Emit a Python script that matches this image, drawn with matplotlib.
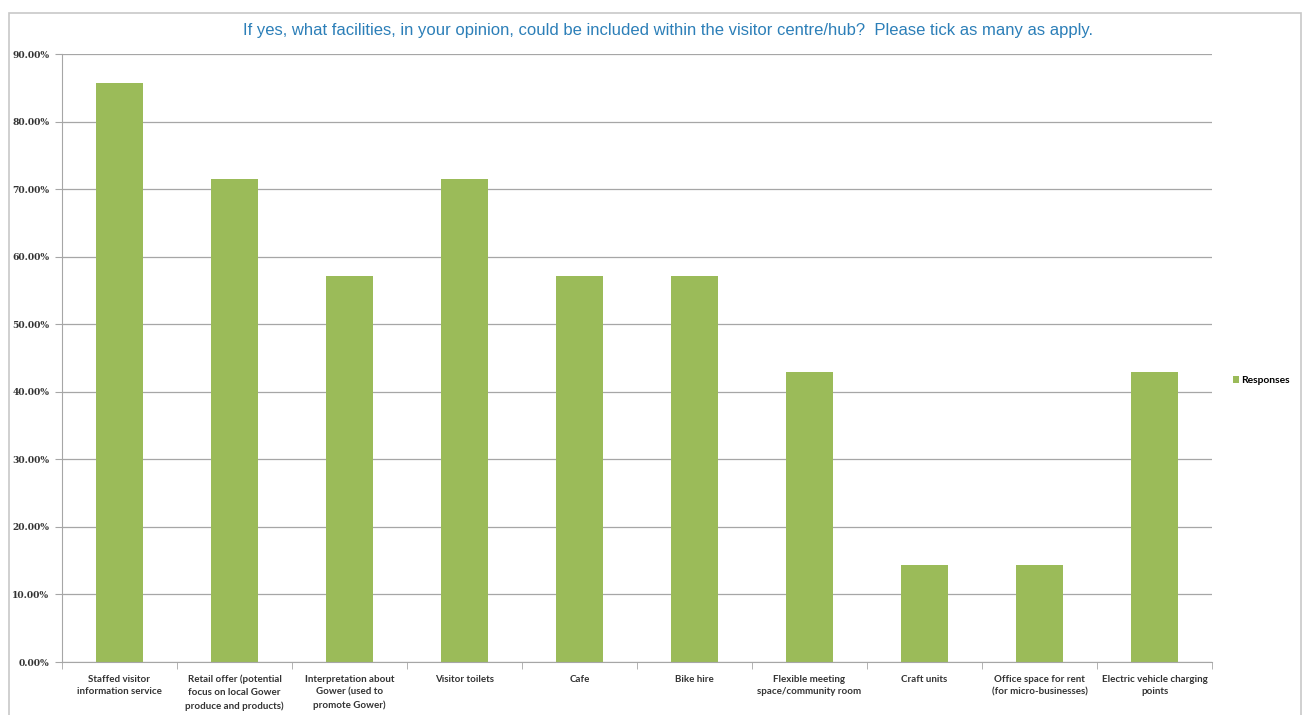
import numpy as np
import matplotlib.pyplot as plt
from matplotlib.patches import Rectangle
from matplotlib.ticker import FuncFormatter

categories = [
    "Staffed visitor\ninformation service",
    "Retail offer (potential\nfocus on local Gower\nproduce and products)",
    "Interpretation about\nGower (used to\npromote Gower)",
    "Visitor toilets",
    "Cafe",
    "Bike hire",
    "Flexible meeting\nspace/community room",
    "Craft units",
    "Office space for rent\n(for micro-businesses)",
    "Electric vehicle charging\npoints",
]
responses = [85.71, 71.43, 57.14, 71.43, 57.14, 57.14, 42.86, 14.29, 14.29, 42.86]
title = "If yes, what facilities, in your opinion, could be included within the visitor centre/hub?  Please tick as many as apply."

fig = plt.figure(figsize=(13.03, 7.15), dpi=100)
fig.patches.append(Rectangle((9 / 1303, -0.01), 1292 / 1303, 1 - 13 / 715 + 0.01,
                             transform=fig.transFigure, fill=False,
                             edgecolor="#c8c8c8", linewidth=1.2))
ax = fig.add_axes([62 / 1303, 1 - 662 / 715, 1150 / 1303, 608 / 715])

x = np.arange(len(categories))
ax.bar(x, responses, width=0.41, color="#9bbb59", label="Responses", zorder=2)

ax.set_xlim(-0.5, len(categories) - 0.5)
ax.set_ylim(0, 90)
ax.set_yticks(np.arange(0, 91, 10))
ax.yaxis.set_major_formatter(FuncFormatter(lambda v, p: f"{v:.2f}%"))
ax.yaxis.grid(True, color="#a6a6a6", linewidth=0.9, zorder=0)
ax.tick_params(axis="y", length=5, color="#a6a6a6", labelsize=6.6, pad=4)
for lab in ax.get_yticklabels():
    lab.set_fontfamily("DejaVu Serif")
    lab.set_fontweight("bold")
    lab.set_color("#333333")

ax.set_xticks(x)
ax.set_xticklabels(categories, fontsize=7.0, fontfamily="Lato", fontweight="bold",
                   color="#333333", linespacing=1.55, va="top")
ax.tick_params(axis="x", length=0, pad=9)
ax.set_xticks(np.arange(-0.5, len(categories), 1), minor=True)
ax.tick_params(axis="x", which="minor", length=5, color="#a6a6a6")

for side in ["top", "right"]:
    ax.spines[side].set_visible(False)
ax.spines["left"].set_color("#a6a6a6")
ax.spines["bottom"].set_color("#a6a6a6")

fig.text(668 / 1303, 1 - 30 / 715, title, ha="center", va="center",
         fontsize=12, fontfamily="Liberation Sans", color="#2c7fb8")

ax.legend(loc="center left", bbox_to_anchor=(1.01, 0.463), frameon=False,
          handlelength=0.6, handleheight=0.6, handletextpad=0.2,
          prop={"family": "Lato", "weight": "bold", "size": 7.4})

fig.savefig("out.png", dpi=100)
